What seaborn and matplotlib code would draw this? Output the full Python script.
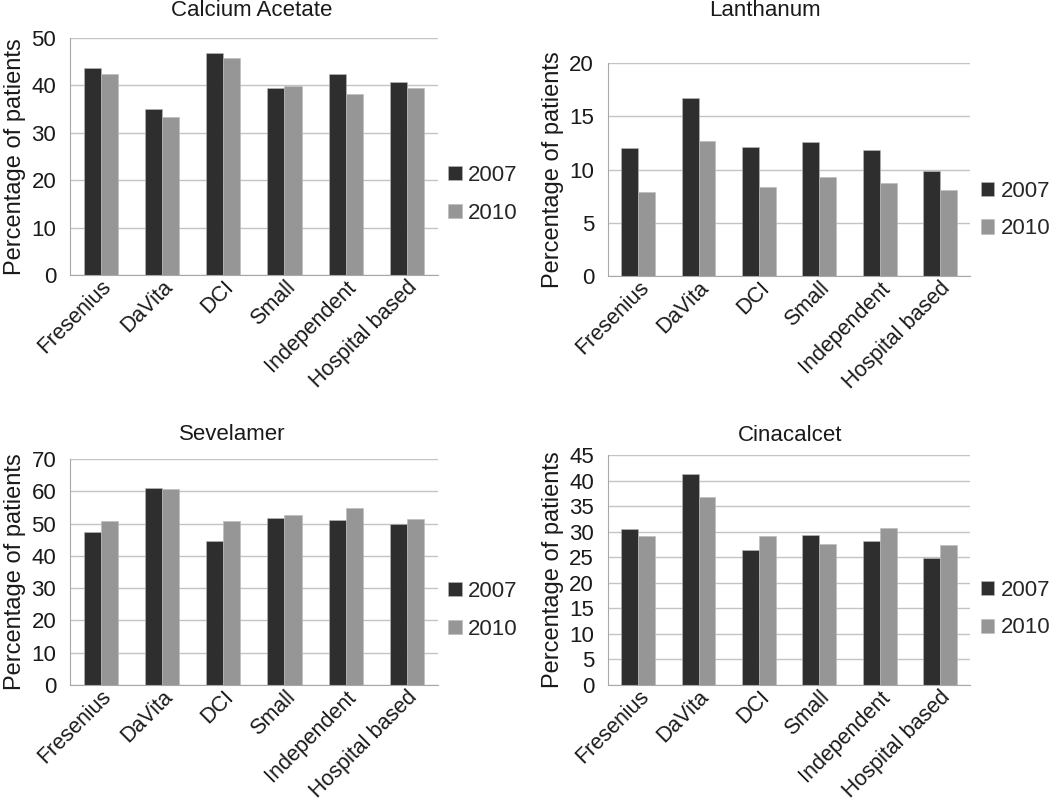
import numpy as np
import pandas as pd
import matplotlib
matplotlib.use("Agg")
import matplotlib.pyplot as plt
import seaborn as sns

sns.set_style("white")
plt.rcParams['font.family'] = ['Liberation Sans', 'DejaVu Sans']

# data
providers = ['Fresenius', 'DaVita', 'DCI', 'Small', 'Independent', 'Hospital based']
years = ['2007', '2010']

calcium_2007 = [43.7, 35.0, 46.9, 39.5, 42.3, 40.8]
calcium_2010 = [42.5, 33.3, 45.8, 39.8, 38.2, 39.5]
lanthanum_2007 = [12.0, 16.7, 12.1, 12.6, 11.8, 9.9]
lanthanum_2010 = [7.9, 12.7, 8.4, 9.3, 8.7, 8.1]
sevelamer_2007 = [47.4, 61.0, 44.7, 51.7, 51.2, 49.9]
sevelamer_2010 = [50.7, 60.6, 50.8, 52.6, 54.8, 51.5]
cinacalcet_2007 = [30.6, 41.3, 26.4, 29.4, 28.1, 24.9]
cinacalcet_2010 = [29.1, 36.8, 29.1, 27.6, 30.8, 27.3]

W, H = 1050, 805
FS = 16

# title, 2007, 2010, ymax, step, axes box, legend y, title pos (px)
panels = [
    ('Calcium Acetate', calcium_2007, calcium_2010, 50, 10,
     [0.0667, 0.6584, 0.350, 0.2944], 0.34, (252, 11)),
    ('Lanthanum', lanthanum_2007, lanthanum_2010, 20, 5,
     [0.579, 0.6571, 0.345, 0.2646], 0.31, (765, 11)),
    ('Sevelamer', sevelamer_2007, sevelamer_2010, 70, 10,
     [0.0667, 0.1491, 0.350, 0.2807], 0.33, (232, 434)),
    ('Cinacalcet', cinacalcet_2007, cinacalcet_2010, 45, 5,
     [0.579, 0.1491, 0.345, 0.2857], 0.33, (790, 435)),
]

palette = {'2007': '#2e2e2e', '2010': '#969696'}
grid_col = '#c4c4c4'
axis_col = '#a8a8a8'
text_col = '#1a1a1a'

fig = plt.figure(figsize=(W / 100, H / 100), dpi=100)

for title, v07, v10, ymax, step, pos, leg_y, tpos in panels:
    ax = fig.add_axes(pos)
    df = pd.DataFrame({
        'provider': providers * 2,
        'year': ['2007'] * 6 + ['2010'] * 6,
        'value': list(v07) + list(v10),
    })
    sns.barplot(data=df, x='provider', y='value', hue='year', order=providers,
                hue_order=years, palette=palette, width=0.56, ax=ax,
                edgecolor='#bbbbbb', linewidth=0.4, saturation=1)
    ax.set_ylim(0, ymax)
    ax.set_xlim(-0.5, 5.5)
    ax.set_yticks(np.arange(0, ymax + 1, step))
    ax.yaxis.grid(True, color=grid_col, linewidth=1)
    ax.set_axisbelow(True)
    for s in ['top', 'right']:
        ax.spines[s].set_visible(False)
    ax.spines['left'].set_color(axis_col)
    ax.spines['bottom'].set_color(axis_col)
    ax.tick_params(axis='y', labelsize=FS, length=7, width=1, color=grid_col,
                   pad=3, labelcolor=text_col)
    ax.tick_params(axis='x', labelsize=15.5, length=0, pad=1, labelcolor=text_col)
    # category boundary ticks, Excel style
    ax.set_xticks(np.arange(-0.5, 6, 1), minor=True)
    ax.tick_params(axis='x', which='minor', length=6, color=axis_col, direction='out')
    plt.setp(ax.get_xticklabels(), rotation=45, ha='right', rotation_mode='anchor')
    ax.set_xlabel('')
    ax.set_ylabel('Percentage of patients', fontsize=17, labelpad=4, color=text_col)
    fig.text(tpos[0] / W, 1 - tpos[1] / H, title, fontsize=FS, color=text_col,
             ha='center', va='center')
    ax.legend(loc='center left', bbox_to_anchor=(1.005, leg_y), frameon=False,
              fontsize=FS, handlelength=0.6, handleheight=0.6,
              labelspacing=0.75, handletextpad=0.3, borderaxespad=0)

fig.savefig('out.png', dpi=100, facecolor='white')
